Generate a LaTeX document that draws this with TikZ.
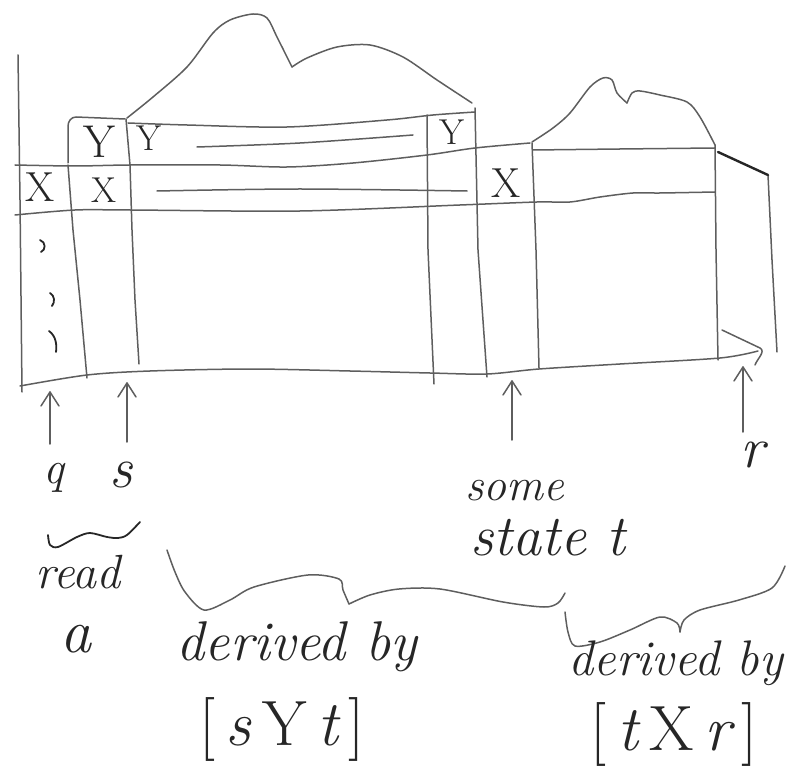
\documentclass[tikz,border=0pt]{standalone}
\usetikzlibrary{arrows.meta}
\definecolor{pencil}{HTML}{5E5E5E}
\definecolor{ink}{HTML}{262626}
\begin{document}
\begin{tikzpicture}[x=1pt,y=-1pt,
  stroke/.style={draw=pencil,line width=1.5pt,line cap=round,line join=round},
  inkstroke/.style={draw=ink,line width=1.8pt,line cap=round,line join=round},
  lbl/.style={text=ink,inner sep=0pt,anchor=base,font=\fontsize{#1}{#1}\selectfont\itshape},
  sym/.style={text=ink,inner sep=0pt,font=\fontsize{#1}{#1}\selectfont},
]
\useasboundingbox (0,0) rectangle (800,783);

% ---- left border of the tape ----
\draw[stroke] (18,55) -- (20,200) -- (22,392);

% ---- horizontal rows ----
% top of the Y row
\draw[stroke] (68,163) -- (68,126) to[out=90,in=180] (76,117) -- (125,119);
\draw[stroke] plot[smooth] coordinates {(128,123) (187,125) (287,127) (387,120) (433,115) (475,112)};
% Y row bottom / X row top
\draw[stroke] plot[smooth] coordinates {(15,165) (75,166) (130,165) (220,165) (287,167) (353,163) (427,155) (475,148) (530,143)};
\draw[stroke] plot[smooth] coordinates {(533,150) (620,149) (715,148)};
% X row bottom
\draw[stroke] plot[smooth] coordinates {(15,215) (75,210) (130,210) (300,211) (460,205) (537,202) (570,202) (600,197) (633,193) (660,193) (715,192)};
% bottom of the tape
\draw[stroke] plot[smooth] coordinates {(20,386) (87,375) (150,371) (250,369) (350,371) (430,373) (487,374) (539,369) (620,364) (720,358) (758,351)};
% hand-drawn arrowhead at the right end of the bottom line
\draw[stroke] (722,330) -- (760,348) to[out=-30,in=70] (755,365);

% short lines inside the rows
\draw[stroke] plot[smooth] coordinates {(197,147) (300,143) (413,135)};
\draw[stroke] plot[smooth] coordinates {(157,191) (300,189) (467,191)};

% ---- vertical column lines ----
\draw[stroke] (68,165) -- (73,230) -- (80,300) -- (87,378);
\draw[stroke] (126,119) -- (130,165) -- (132,230) -- (135,300) -- (139,364);
\draw[stroke] (427,115) -- (428,250) -- (434,384);
\draw[stroke] (475,108) -- (478,250) -- (487,377);
\draw[stroke] (532,143) -- (536,250) -- (539,368);
\draw[stroke] (715,145) -- (716,250) -- (718,360);
\draw[stroke] (768,175) -- (772,260) -- (777,352);
\draw[inkstroke,line width=2.4pt] (718,152) -- (768,175);

% ---- hills over the derived stretches ----
\draw[stroke] plot[smooth] coordinates {(127,118) (153,97) (187,67) (213,33) (230,20) (253,14) (267,18) (277,37) (292,67)};
\draw[stroke] plot[smooth] coordinates {(292,67) (307,58) (337,47) (370,45) (403,57) (437,80) (472,103)};
\draw[stroke] plot[smooth] coordinates {(532,142) (553,128) (570,113) (590,87) (603,78) (612,80) (617,93) (627,103)};
\draw[stroke] plot[smooth] coordinates {(627,103) (632,93) (640,91) (660,95) (687,102) (700,117) (715,145)};

% ---- cell symbols ----
\node[sym=46] (ys) at (99,142) {Y};
\node[sym=36] (y1) at (149,138) {Y};
\node[sym=36] (y2) at (452,132) {Y};
\node[sym=42] (xq) at (40,187) {X};
\node[sym=36] (xs) at (104,190) {X};
\node[sym=42] (xt) at (506,183) {X};

% dots down the q column
\draw[inkstroke] (40,240) .. controls (46,242) and (46,250) .. (41,252);
\draw[inkstroke] (50,293) .. controls (55,296) and (55,302) .. (52,306);
\draw[inkstroke] (49,331) .. controls (56,336) and (57,345) .. (56,352);

% ---- pointers below the tape (shaft, then an open head) ----
\coordinate (q0) at (50,444);  \coordinate (q1) at (50,392);
\coordinate (s0) at (127,442); \coordinate (s1) at (127,383);
\coordinate (t0) at (512,440); \coordinate (t1) at (512,381);
\coordinate (r0) at (743,432); \coordinate (r1) at (743,367);
\foreach \p in {q,s,t,r}{
  \draw[stroke] (\p0) -- (\p1);
  \draw[stroke] (\p1) ++(-9,14) -- (\p1) -- ++(9,14);
}

\node[lbl=46] (q) at (54,483) {q};
\node[lbl=58] (s) at (121,487) {s};
\node[lbl=46] (some) at (515,500) {some};
\node[lbl=58] (state) at (548,555) {state t};
\node[lbl=58] (r) at (752,467) {r};

% squiggle and "read a"
\draw[inkstroke] plot[smooth] coordinates {(48,535) (50,545) (58,547) (77,537) (90,533) (107,537) (118,538) (127,535) (140,522)};
\node[lbl=48] (read) at (78,588) {read};
\node[lbl=62] (a) at (76,652) {a};

% ---- braces ----
\draw[stroke] plot[smooth] coordinates {(167,550) (175,572) (185,592) (204,610) (230,600) (254,587) (308,575) (339,579) (343,590) (349,604)};
\draw[stroke] plot[smooth] coordinates {(349,604) (370,595) (399,589) (440,589) (503,602) (544,607) (558,603) (565,593)};
\draw[stroke] plot[smooth] coordinates {(565,612) (568,632) (575,646) (600,642) (630,630) (660,617) (677,623) (680,632)};
\draw[stroke] plot[smooth] coordinates {(680,632) (684,620) (700,610) (739,600) (772,588) (785,566)};

% ---- derivation labels ----
\node[lbl=56] (der1) at (297,660) {derived by};
\node[lbl=64] (rule1) at (282,745) {\upshape[\,\itshape s\,\upshape Y\,\itshape t\,\upshape]};
\node[lbl=50] (der2) at (676,675) {derived by};
\node[lbl=64] (rule2) at (674,750) {\upshape[\,\itshape t\,\upshape X\,\itshape r\,\upshape]};
\end{tikzpicture}
\end{document}
